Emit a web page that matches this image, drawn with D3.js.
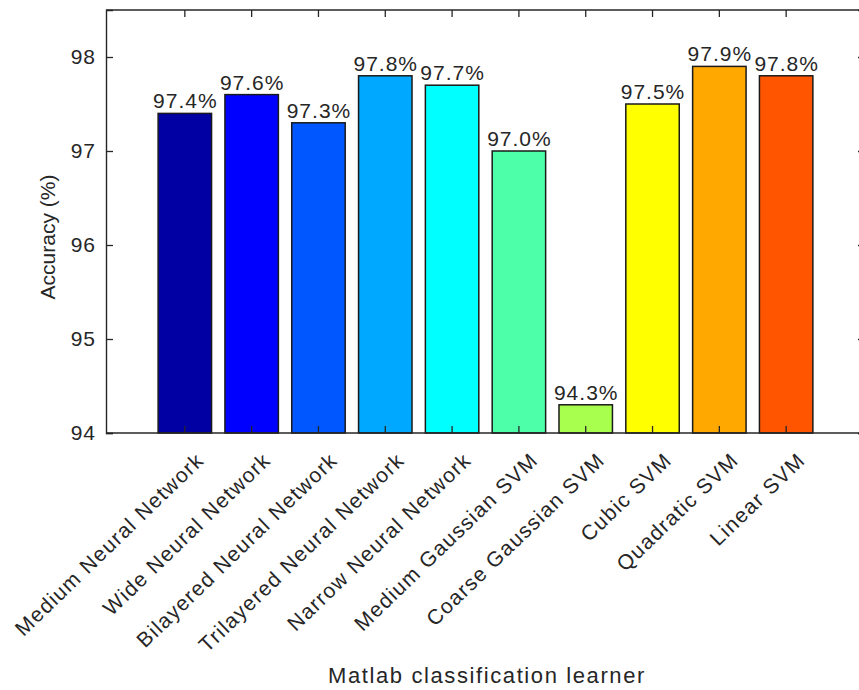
<!DOCTYPE html>
<html><head><meta charset="utf-8">
<script src="https://cdn.jsdelivr.net/npm/d3@7"></script>
<style>body{margin:0;background:#fff}svg{display:block}text{font-family:"Liberation Sans",Arial,sans-serif;fill:#262626}</style>
</head><body><svg id="c" width="859" height="690"></svg>
<script>
const categories = ["Medium Neural Network","Wide Neural Network","Bilayered Neural Network","Trilayered Neural Network","Narrow Neural Network","Medium Gaussian SVM","Coarse Gaussian SVM","Cubic SVM","Quadratic SVM","Linear SVM"];
const accuracy = [97.4,97.6,97.3,97.8,97.7,97.0,94.3,97.5,97.9,97.8];
const valueLabels = ["97.4%","97.6%","97.3%","97.8%","97.7%","97.0%","94.3%","97.5%","97.9%","97.8%"];
const colors = ["#0000a3","#0000ff","#0057ff","#00a8ff","#00ffff","#4dffa8","#a8ff4d","#ffff00","#ffa800","#ff5500"];
const yTicks = [94,95,96,97,98];
const yDomain = [94,98.5];
const xLabel = "Matlab classification learner";
const yLabel = "Accuracy (%)";

const svg = d3.select("#c");
const L=106, R=865, T=10, B=433;
const x = d3.scaleBand().domain(categories).range([L,R]).paddingInner(0.2).paddingOuter(0.78);
const y = d3.scaleLinear().domain(yDomain).range([B,T]);
const ink="#262626";
const g = svg.append("g");

// bars
g.selectAll("rect.bar").data(categories).join("rect")
 .attr("x",d=>x(d)).attr("width",x.bandwidth())
 .attr("y",(d,i)=>y(accuracy[i])).attr("height",(d,i)=>y(yDomain[0])-y(accuracy[i]))
 .attr("fill",(d,i)=>colors[i]).attr("stroke","#1a1a1a").attr("stroke-width",1.5);

// value labels
g.selectAll("text.val").data(categories).join("text")
 .attr("x",d=>x(d)+x.bandwidth()/2+0.5).attr("y",(d,i)=>y(accuracy[i])-5)
 .attr("text-anchor","middle").style("font-size","21px").style("letter-spacing","1px")
 .text((d,i)=>valueLabels[i]);

// axes box
const axL = d3.axisLeft(y).tickValues(yTicks).tickSize(-7).tickPadding(10).tickFormat(d3.format("d"));
const gl = svg.append("g").attr("transform",`translate(${L},0)`).call(axL);
const axR = d3.axisRight(y).tickValues(yTicks).tickSize(-7).tickFormat("");
const gr = svg.append("g").attr("transform",`translate(${R},0)`).call(axR);
const axB = d3.axisBottom(x).tickSize(-7).tickFormat("");
const gb = svg.append("g").attr("transform",`translate(0,${B})`).call(axB);
const axT = d3.axisTop(x).tickSize(-7).tickFormat("");
const gt = svg.append("g").attr("transform",`translate(0,${T})`).call(axT);
[gl,gr,gb,gt].forEach(a=>{a.selectAll("path.domain").attr("stroke",ink).attr("stroke-width",1.4);a.selectAll(".tick line").attr("stroke",ink).attr("stroke-width",1.3);});
gl.selectAll(".tick text").style("font-size","21px").style("letter-spacing","1px").attr("fill",ink).style("font-family","'Liberation Sans',Arial,sans-serif");
gb.selectAll("path.domain").attr("d",`M${L},0H${R}`);
gt.selectAll("path.domain").attr("d",`M${L},0H${R}`);

// category labels
g.selectAll("text.cat").data(categories).join("text")
 .attr("transform",d=>`translate(${x(d)+x.bandwidth()/2+10},${B+18}) rotate(-44)`)
 .attr("text-anchor","end").attr("dy","0.71em").style("font-size","21px").style("letter-spacing","1.3px")
 .text(d=>d);

// axis titles
svg.append("text").attr("x",487).attr("y",683).attr("text-anchor","middle").style("font-size","22px").style("letter-spacing","1.6px").text(xLabel);
svg.append("text").attr("transform","translate(55,237) rotate(-90)").attr("text-anchor","middle").style("font-size","21px").text(yLabel);
</script></body></html>
